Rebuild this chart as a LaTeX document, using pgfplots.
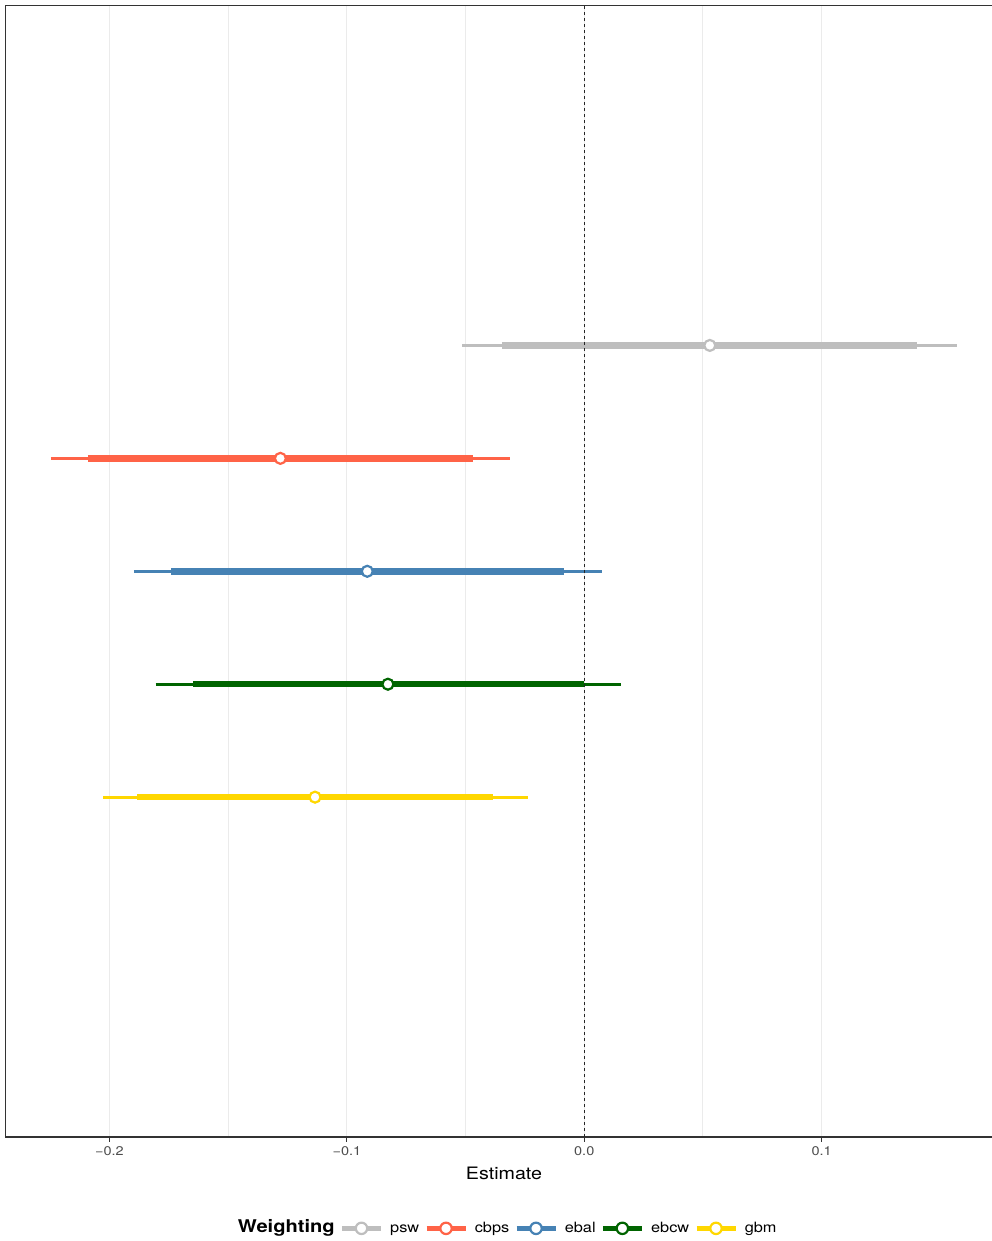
\documentclass[border=0pt]{standalone}
\usepackage{pgfplots}
\pgfplotsset{compat=1.18}
\usepackage{fontspec}
\setmainfont[FakeStretch=1.15]{TeX Gyre Heros}

\definecolor{pswc}{HTML}{BEBEBE}
\definecolor{cbpsc}{HTML}{FF6347}
\definecolor{ebalc}{HTML}{4682B4}
\definecolor{ebcwc}{HTML}{006400}
\definecolor{gbmc}{HTML}{FFD700}
\definecolor{gridc}{HTML}{EBEBEB}
\definecolor{framec}{HTML}{333333}
\definecolor{tickc}{HTML}{4D4D4D}

% one estimate with its 90% (thick) and 95% (thin) intervals
\newcommand{\estrow}[7]{%
  \addplot[#1, line width=3pt, forget plot] coordinates {(#3,#2) (#7,#2)};
  \addplot[#1, line width=6.5pt, forget plot] coordinates {(#4,#2) (#6,#2)};
  \addplot[only marks, forget plot, mark=*, mark size=5.5pt,
           mark options={draw=#1, fill=white, line width=2.2pt}]
           coordinates {(#5,#2)};
}
\pgfplotsset{
  keyimg/.style={legend image code/.code={
    \draw[line width=5.5pt] (0pt,3.7pt) -- (39pt,3.7pt);
    \draw[line width=2.2pt, fill=white] (19.5pt,3.7pt) circle (5.7pt);}},
}

\begin{document}
\begin{tikzpicture}
\useasboundingbox (0pt,0pt) rectangle (991pt,-1241pt);
\begin{axis}[
  at={(5.5pt,-5.5pt)}, anchor=north west,
  scale only axis, width=997pt, height=1131.5pt,
  xmin=-0.2438, xmax=0.1762, ymin=-2.01, ymax=8.01,
  axis line style={draw=framec, line width=1.2pt},
  xtick={-0.2,-0.1,0,0.1},
  xticklabels={−0.2,−0.1,0.0,0.1},
  minor x tick num=1, minor tick length=0pt,
  xmajorgrids, xminorgrids,
  major grid style={gridc, line width=1.1pt},
  minor grid style={gridc, line width=1.1pt},
  ytick=\empty,
  xtick pos=lower, tick align=outside, major tick length=4.5pt,
  tick style={framec, line width=1.1pt},
  xticklabel style={font=\fontsize{12.6}{14}\selectfont, text=tickc, anchor=base, yshift=-14.2pt},
  xlabel={Estimate},
  xlabel style={font=\fontsize{17.1}{19}\selectfont, at={(axis description cs:0.5,0)}, anchor=base, yshift=-42pt},
  legend columns=-1,
  legend style={at={(0.5,0)}, anchor=center, yshift=-90pt, draw=none, fill=none,
    font=\fontsize{14.2}{16}\selectfont,
    cells={anchor=base west},
    nodes={inner sep=0pt},
    /tikz/every odd column/.append style={column sep=6.5pt},
    /tikz/every even column/.append style={column sep=4.5pt}},
]
\estrow{pswc}{5}{-0.0513}{-0.0345}{0.0529}{0.1401}{0.1571}
\estrow{cbpsc}{4}{-0.2247}{-0.2091}{-0.1280}{-0.0467}{-0.0313}
\estrow{ebalc}{3}{-0.1897}{-0.1739}{-0.0914}{-0.0087}{0.0073}
\estrow{ebcwc}{2}{-0.1806}{-0.1647}{-0.0827}{0.0000}{0.0155}
\estrow{gbmc}{1}{-0.2026}{-0.1883}{-0.1134}{-0.0383}{-0.0239}
\addplot[black!85, line width=1pt, dash pattern=on 3.5pt off 2.5pt, forget plot]
  coordinates {(0,-2.01) (0,8.01)};

\addlegendimage{empty legend}
\addlegendentry{\fontsize{17.5}{19}\selectfont\bfseries Weighting\hspace{6pt}}
\addlegendimage{pswc, keyimg}\addlegendentry{psw}
\addlegendimage{cbpsc, keyimg}\addlegendentry{cbps}
\addlegendimage{ebalc, keyimg}\addlegendentry{ebal}
\addlegendimage{ebcwc, keyimg}\addlegendentry{ebcw}
\addlegendimage{gbmc, keyimg}\addlegendentry{gbm}
\end{axis}
\end{tikzpicture}
\end{document}
